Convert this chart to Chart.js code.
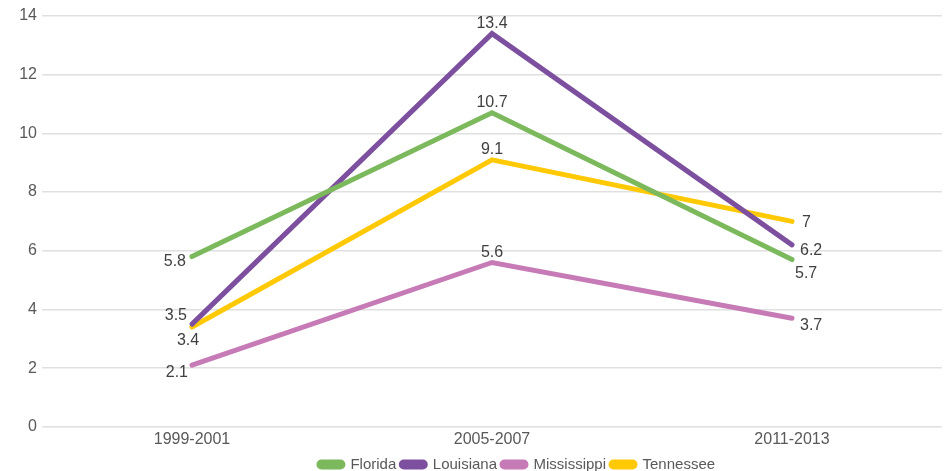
<!DOCTYPE html>
<html>
<head>
<meta charset="utf-8">
<script src="https://cdn.jsdelivr.net/npm/chart.js@4"></script>
<style>
html,body{margin:0;padding:0;background:#fff;}
#wrap{width:950px;height:471px;position:relative;}
</style>
</head>
<body>
<div id="wrap"><canvas id="c"></canvas></div>
<script>
const categories = ["1999-2001", "2005-2007", "2011-2013"];
const florida = [5.8, 10.7, 5.7];
const louisiana = [3.5, 13.4, 6.2];
const mississippi = [2.1, 5.6, 3.7];
const tennessee = [3.4, 9.1, 7];
const yTicks = [0, 2, 4, 6, 8, 10, 12, 14];

const FONT = "'Liberation Sans', Arial, sans-serif";

// label placement per dataset per point: [dx, dy, align, baseline]
const labelPlacement = {
  Florida:     [[-6, 5, 'right', 'middle'], [0, -2, 'center', 'bottom'], [3, 14, 'left', 'middle']],
  Louisiana:   [[-5, -9, 'right', 'middle'], [0, -2, 'center', 'bottom'], [8, 6, 'left', 'middle']],
  Mississippi: [[-4, 7, 'right', 'middle'], [0, -2, 'center', 'bottom'], [8, 7, 'left', 'middle']],
  Tennessee:   [[-4, 14, 'center', 'middle'], [0, -2, 'center', 'bottom'], [10, 1, 'left', 'middle']]
};

const labelPlugin = {
  id: 'pointLabels',
  afterDatasetsDraw(chart) {
    const ctx = chart.ctx;
    ctx.save();
    ctx.font = "16px " + FONT;
    ctx.fillStyle = '#404040';
    chart.data.datasets.forEach((ds, i) => {
      const meta = chart.getDatasetMeta(i);
      const place = labelPlacement[ds.label];
      meta.data.forEach((pt, j) => {
        const p = place[j];
        ctx.textAlign = p[2];
        ctx.textBaseline = p[3];
        ctx.fillText(String(ds.data[j]), pt.x + p[0], pt.y + p[1]);
      });
    });
    ctx.restore();
  }
};

// shift legend block to the right, as in the reference
const legendShift = {
  id: 'legendShift',
  afterLayout(chart) {
    const lg = chart.legend;
    if (lg) { lg.left += 46; lg.right += 46; }
  }
};

function ds(label, data, color) {
  return {
    label, data,
    borderColor: color,
    backgroundColor: color,
    borderWidth: 5,
    borderCapStyle: 'round',
    borderJoinStyle: 'miter',
    pointRadius: 0,
    pointHoverRadius: 0,
    tension: 0
  };
}

new Chart(document.getElementById('c'), {
  type: 'line',
  data: {
    labels: categories,
    datasets: [
      ds('Florida', florida, '#7cb95c'),
      ds('Louisiana', louisiana, '#7d4f9f'),
      ds('Mississippi', mississippi, '#c77bb6'),
      ds('Tennessee', tennessee, '#ffc905')
    ]
  },
  options: {
    responsive: true,
    maintainAspectRatio: false,
    animation: false,
    layout: { padding: { top: 16, right: 8, bottom: -11, left: 0 } },
    plugins: {
      tooltip: { enabled: false },
      legend: {
        position: 'bottom',
        labels: {
          font: { size: 15, family: FONT },
          color: '#595959',
          boxWidth: 24,
          boxHeight: 5,
          useBorderRadius: true,
          borderRadius: 2.5,
          padding: 5
        }
      }
    },
    scales: {
      x: {
        offset: true,
        grid: { display: false, drawTicks: false },
        border: { display: false },
        ticks: { font: { size: 16, family: FONT }, color: '#595959', padding: 3 }
      },
      y: {
        min: 0, max: 14,
        afterBuildTicks(scale) { scale.ticks = yTicks.map(v => ({ value: v })); },
        afterFit(scale) { scale.width = 42; },
        grid: { color: '#e0e0e0', lineWidth: 1.5, drawTicks: false },
        border: { display: false },
        ticks: { font: { size: 16, family: FONT }, color: '#595959', padding: 5 }
      }
    }
  },
  plugins: [labelPlugin, legendShift]
});
</script>
</body>
</html>
